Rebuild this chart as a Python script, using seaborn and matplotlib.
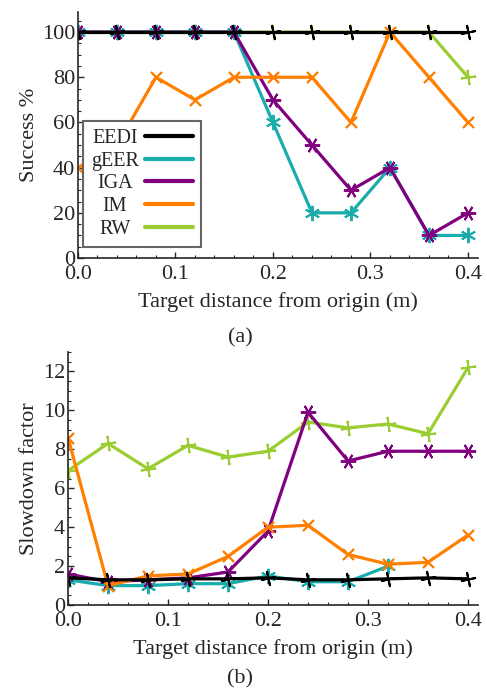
import numpy as np
import pandas as pd
import seaborn as sns
import matplotlib.pyplot as plt
from matplotlib.lines import Line2D
from matplotlib.offsetbox import VPacker
from matplotlib.ticker import MultipleLocator

# distances of the targets (m)
distance = [0.0, 0.04, 0.08, 0.12, 0.16, 0.2, 0.24, 0.28, 0.32, 0.36, 0.4]

# success rate (%)
success_eedi = [100, 100, 100, 100, 100, 100, 100, 100, 100, 100, 100]
success_geer = [100, 100, 100, 100, 100, 60, 20, 20, 40, 10, 10]
success_iga = [100, 100, 100, 100, 100, 70, 50, 30, 40, 10, 20]
success_im = [40, 50, 80, 70, 80, 80, 80, 60, 100, 80, 60]
success_rw = [100, 100, 100, 100, 100, 100, 100, 100, 100, 100, 80]

# slowdown factor
slow_eedi = [1.4, 1.3, 1.3, 1.35, 1.35, 1.4, 1.3, 1.3, 1.35, 1.4, 1.35]
slow_geer = [1.3, 1.0, 1.0, 1.1, 1.1, 1.5, 1.2, 1.2, 2.0, np.nan, np.nan]
slow_iga = [1.6, 1.2, 1.3, 1.4, 1.7, 3.8, 9.9, 7.4, 7.9, 7.9, 7.9]
slow_im = [8.6, 1.0, 1.5, 1.6, 2.5, 4.0, 4.1, 2.6, 2.1, 2.2, 3.6]
slow_rw = [6.9, 8.3, 7.0, 8.2, 7.6, 7.9, 9.4, 9.1, 9.3, 8.8, 12.2]

methods = ["EEDI", "gEER", "IGA", "IM", "RW"]
colors = {"EEDI": "black", "gEER": "#1aacac", "IGA": "#800080",
          "IM": "#ff8000", "RW": "#9acd32"}
markers = {"EEDI": (4, 2, 12), "gEER": (6, 2, 0), "IGA": (6, 2, 30),
           "IM": (4, 2, 45), "RW": (4, 2, 8)}
draw_order = ["RW", "gEER", "IGA", "IM", "EEDI"]

success = {"EEDI": success_eedi, "gEER": success_geer, "IGA": success_iga,
           "IM": success_im, "RW": success_rw}
slowdown = {"EEDI": slow_eedi, "gEER": slow_geer, "IGA": slow_iga,
            "IM": slow_im, "RW": slow_rw}

sns.set_style("ticks")
plt.rcParams["font.family"] = ["Liberation Serif", "DejaVu Serif"]
plt.rcParams["font.size"] = 16

fig = plt.figure(figsize=(4.87, 6.90), dpi=100)
ax1 = fig.add_axes([0.160, 0.626, 0.821, 0.357])
ax2 = fig.add_axes([0.1396, 0.123, 0.842, 0.367])


def draw(ax, values):
    for m in draw_order:
        df = pd.DataFrame({"x": distance, "y": values[m]}).dropna()
        sns.lineplot(data=df, x="x", y="y", ax=ax, color=colors[m],
                     linewidth=2.3, marker=markers[m], markersize=11,
                     markeredgecolor=colors[m], markeredgewidth=1.4,
                     legend=False)
    ax.set_xlim(0, 0.41)
    ax.xaxis.set_major_locator(MultipleLocator(0.1))
    ax.xaxis.set_minor_locator(MultipleLocator(0.02))
    ax.xaxis.set_major_formatter(plt.FuncFormatter(lambda v, p: f"{v:.1f}"))
    ax.tick_params(which="major", direction="in", length=4, width=1, labelsize=16, pad=2)
    ax.tick_params(axis="x", which="major", pad=5)
    ax.tick_params(which="minor", direction="in", length=2, width=0.8)
    for s in ["left", "bottom"]:
        ax.spines[s].set_linewidth(1.2)
    sns.despine(ax=ax)
    ax.set_xlabel("Target distance from origin (m)", fontsize=16, labelpad=6)


draw(ax1, success)
ax1.set_ylim(0, 109)
ax1.yaxis.set_major_locator(MultipleLocator(20))
ax1.yaxis.set_minor_locator(MultipleLocator(5))
ax1.set_ylabel("Success %", fontsize=16, labelpad=2)

handles = [Line2D([0], [0], color=colors[m], linewidth=3) for m in methods]
leg = ax1.legend(handles, methods, loc="lower left", bbox_to_anchor=(0.012, 0.045),
                 borderaxespad=0, markerfirst=False, fancybox=False,
                 fontsize=14.5, handlelength=2.4, labelspacing=0.18,
                 borderpad=0.4, handletextpad=0.3, framealpha=1)
leg.get_frame().set_edgecolor("#666666")
leg.get_frame().set_linewidth(1.5)
# centre the labels in a fixed-width slot so the line samples stay aligned
for column in leg._legend_handle_box.get_children():
    for row in column.get_children():
        parts = row.get_children()
        slot = VPacker(children=[parts[0]], align="center", pad=0, sep=0, width=48)
        slot.set_figure(fig)
        parts[0] = slot

draw(ax2, slowdown)
ax2.set_ylim(0, 13)
ax2.yaxis.set_major_locator(MultipleLocator(2))
ax2.yaxis.set_minor_locator(MultipleLocator(0.5))
ax2.set_ylabel("Slowdown factor", fontsize=16, labelpad=3)

fig.text(0.493, 1 - 338 / 690, "(a)", ha="center", va="center", fontsize=16)
fig.text(0.493, 1 - 679 / 690, "(b)", ha="center", va="center", fontsize=16)

fig.savefig("out.png", dpi=100)
